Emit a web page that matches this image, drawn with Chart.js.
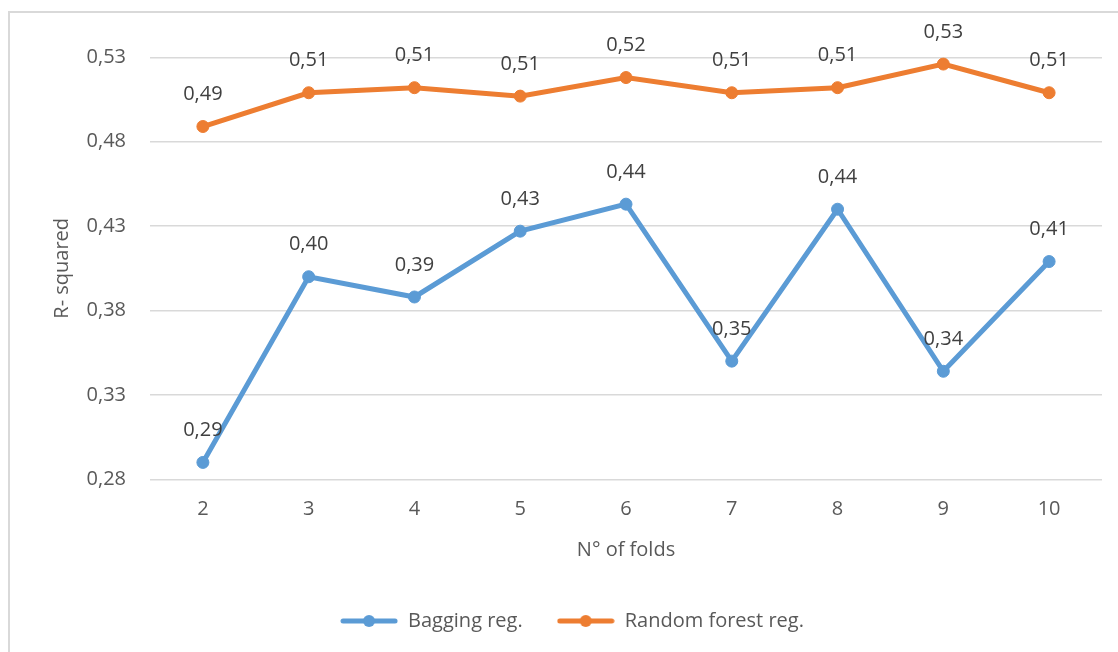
<!DOCTYPE html>
<html>
<head>
<meta charset="utf-8">
<style>
  html, body { margin: 0; padding: 0; background: #ffffff; }
  #wrap { position: relative; width: 1118px; height: 652px; }
</style>
<script src="https://cdn.jsdelivr.net/npm/chart.js@4/dist/chart.umd.min.js"></script>
</head>
<body>
<div id="wrap"><canvas id="chart" width="1118" height="652"></canvas></div>
<script>
// Number of folds used in cross-validation
const folds = ['2', '3', '4', '5', '6', '7', '8', '9', '10'];

// R-squared per fold count
const baggingValues = [0.290, 0.400, 0.388, 0.427, 0.443, 0.350, 0.440, 0.344, 0.409];
const randomForestValues = [0.489, 0.509, 0.512, 0.507, 0.518, 0.509, 0.512, 0.526, 0.509];

// Value axis ticks
const yTickValues = [0.28, 0.33, 0.38, 0.43, 0.48, 0.53];

const seriesNames = ['Bagging reg.', 'Random forest reg.'];
const seriesColors = ['#5B9BD5', '#ED7D31'];

const FONT = '"Open Sans", "DejaVu Sans", sans-serif';
const fmt = v => v.toFixed(2).replace('.', ',');

// Legend marker: a short line with a dot in the middle
function legendMarker(color) {
  const c = document.createElement('canvas');
  c.width = 58; c.height = 14;
  const g = c.getContext('2d');
  g.strokeStyle = color;
  g.lineWidth = 5;
  g.lineCap = 'round';
  g.beginPath(); g.moveTo(3, 7); g.lineTo(55, 7); g.stroke();
  g.fillStyle = color;
  g.beginPath(); g.arc(29, 7, 6, 0, Math.PI * 2); g.fill();
  return c;
}

// Thin frame along the top and left edges
const framePlugin = {
  id: 'frame',
  beforeDraw(chart) {
    const ctx = chart.ctx;
    ctx.save();
    ctx.strokeStyle = '#d9d9d9';
    ctx.lineWidth = 2;
    ctx.beginPath();
    ctx.moveTo(9, chart.height);
    ctx.lineTo(9, 12);
    ctx.lineTo(chart.width, 12);
    ctx.stroke();
    ctx.restore();
  }
};

// Value labels above each point
const valueLabels = {
  id: 'valueLabels',
  afterDatasetsDraw(chart) {
    const ctx = chart.ctx;
    ctx.save();
    ctx.font = '20px ' + FONT;
    ctx.fillStyle = '#404040';
    ctx.textAlign = 'center';
    ctx.textBaseline = 'middle';
    chart.data.datasets.forEach((ds, i) => {
      const meta = chart.getDatasetMeta(i);
      meta.data.forEach((pt, j) => {
        ctx.fillText(fmt(ds.data[j]), pt.x, pt.y - 32);
      });
    });
    ctx.restore();
  }
};

// Fixed legend height so the plot area lands where intended
const legendSize = {
  id: 'legendSize',
  beforeInit(chart) {
    const origFit = chart.legend.fit;
    chart.legend.fit = function () {
      origFit.call(this);
      this.height = 75;
    };
  }
};

new Chart(document.getElementById('chart'), {
  type: 'line',
  data: {
    labels: folds,
    datasets: [
      {
        label: seriesNames[0],
        data: baggingValues,
        borderColor: seriesColors[0],
        backgroundColor: seriesColors[0],
        borderWidth: 5,
        pointStyle: 'circle',
        pointRadius: 6,
        pointBorderWidth: 1,
        tension: 0
      },
      {
        label: seriesNames[1],
        data: randomForestValues,
        borderColor: seriesColors[1],
        backgroundColor: seriesColors[1],
        borderWidth: 5,
        pointStyle: 'circle',
        pointRadius: 6,
        pointBorderWidth: 1,
        tension: 0
      }
    ]
  },
  options: {
    responsive: false,
    animation: false,
    events: [],
    layout: { padding: { left: 42, right: 16, top: 57.3, bottom: 0 } },
    plugins: {
      legend: {
        position: 'bottom',
        labels: {
          usePointStyle: true,
          pointStyleWidth: 58,
          padding: 34,
          color: '#595959',
          font: { family: FONT, size: 20 },
          generateLabels(chart) {
            return chart.data.datasets.map((ds, i) => ({
              text: ds.label,
              fillStyle: seriesColors[i],
              strokeStyle: seriesColors[i],
              lineWidth: 0,
              pointStyle: legendMarker(seriesColors[i]),
              fontColor: '#595959',
              hidden: false,
              datasetIndex: i
            }));
          }
        }
      },
      tooltip: { enabled: false }
    },
    scales: {
      x: {
        offset: true,
        grid: { display: false, drawTicks: false },
        border: { display: false },
        ticks: { color: '#595959', font: { family: FONT, size: 20 }, padding: 18 },
        title: {
          display: true,
          text: 'N° of folds',
          color: '#595959',
          font: { family: FONT, size: 20 },
          padding: { top: 0, bottom: 15 }
        },
        afterFit(scale) { scale.height = 97.7; }
      },
      y: {
        min: 0.28,
        max: 0.53,
        grid: { color: '#d9d9d9', lineWidth: 1.5, drawTicks: false },
        border: { display: false },
        afterBuildTicks(scale) { scale.ticks = yTickValues.map(v => ({ value: v })); },
        ticks: {
          color: '#595959',
          font: { family: FONT, size: 20 },
          padding: 24,
          callback: v => fmt(v)
        },
        title: {
          display: true,
          text: 'R- squared',
          color: '#595959',
          font: { family: FONT, size: 20 },
          padding: { top: 8, bottom: 0 }
        },
        afterFit(scale) { scale.width = 108; }
      }
    }
  },
  plugins: [framePlugin, valueLabels, legendSize]
});
</script>
</body>
</html>
